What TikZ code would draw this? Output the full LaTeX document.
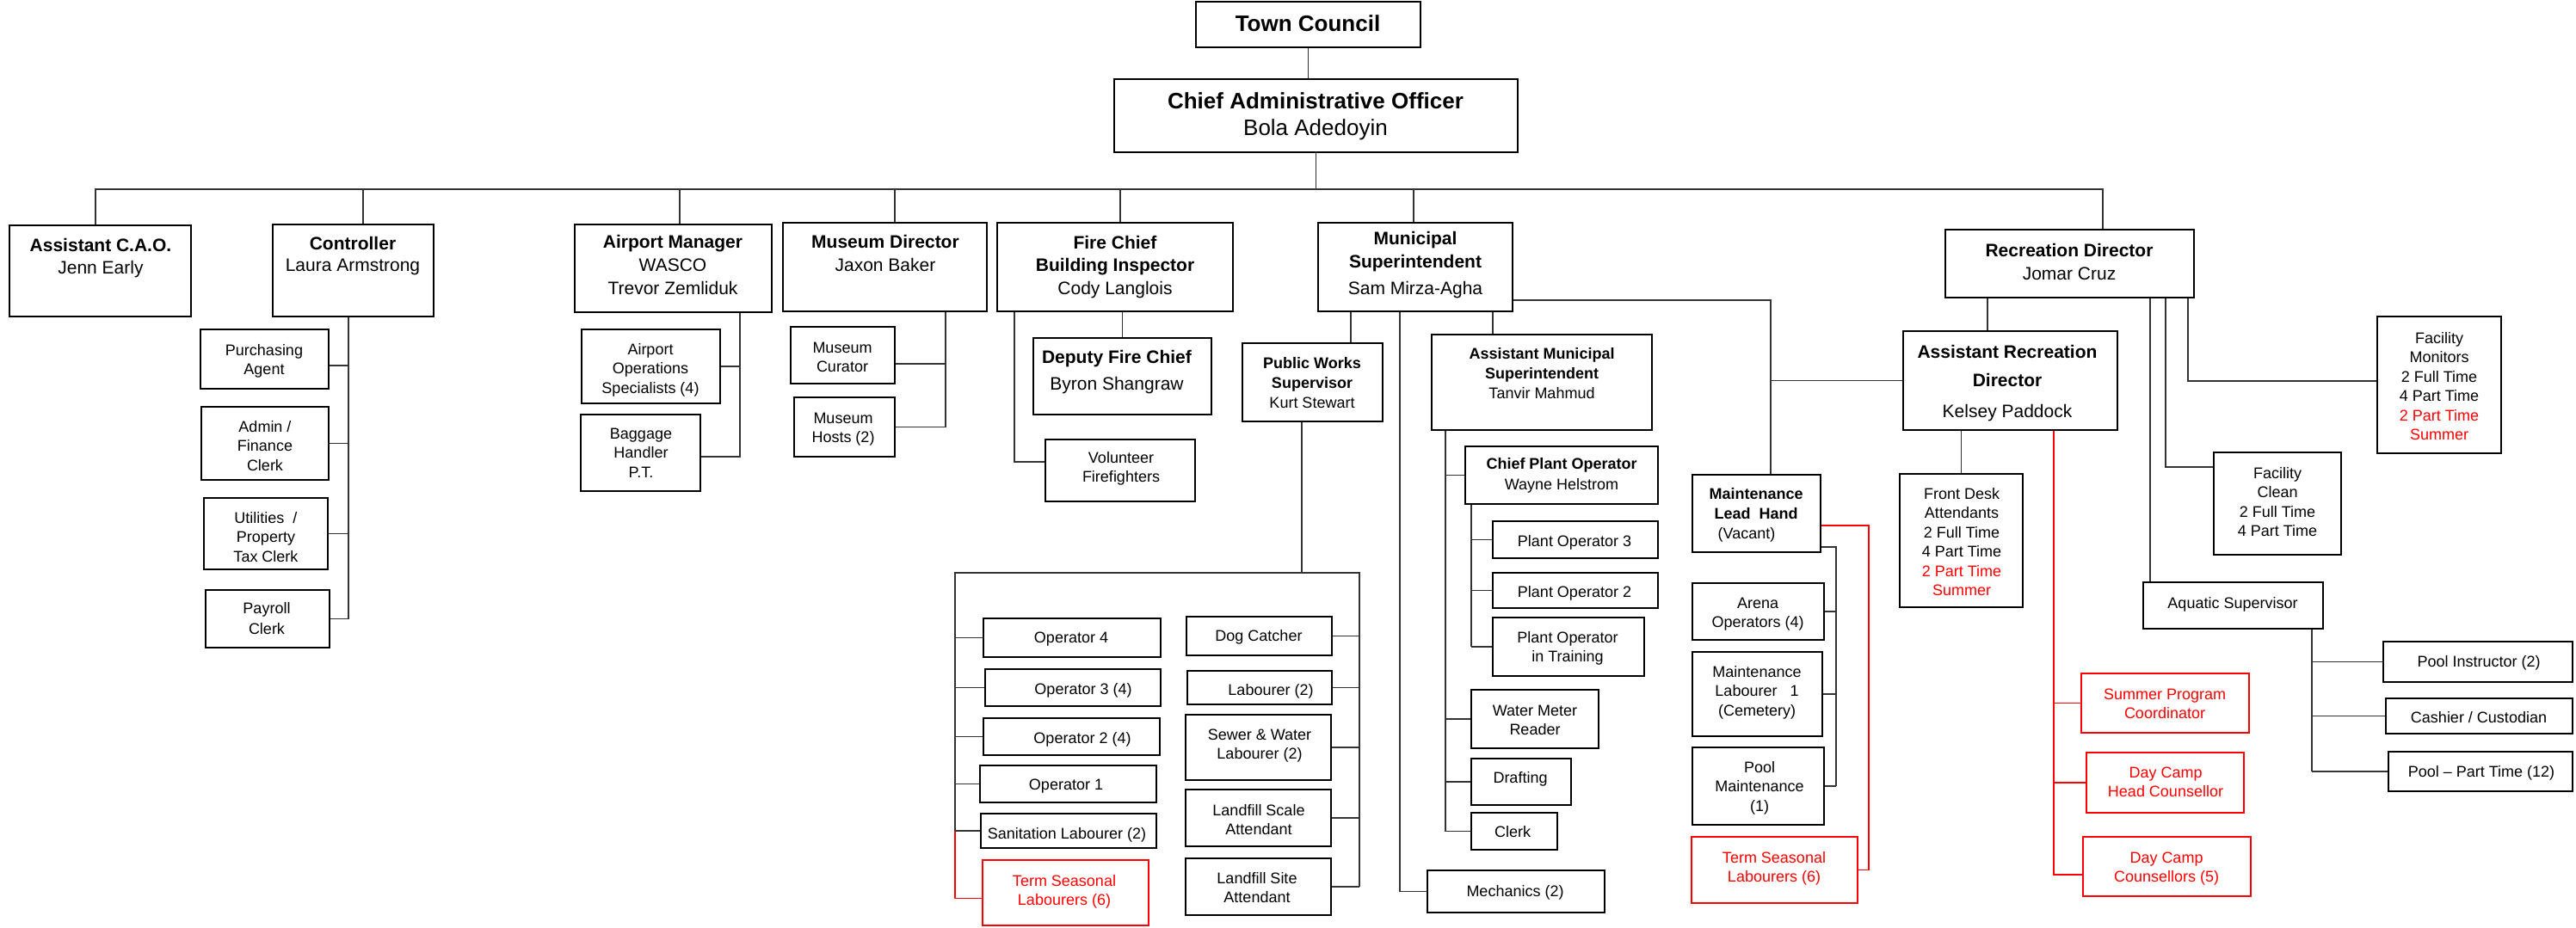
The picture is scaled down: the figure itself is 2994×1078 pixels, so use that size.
\documentclass[tikz,border=0pt]{standalone}
\usepackage{fontspec}
\setmainfont{Liberation Sans}
\usetikzlibrary{fit}
\newcommand\BX[6][box]{\node[#1, fit={(#3,#4)(#5,#6)}] (#2) {};}
\newcommand\TX[5][sml]{\node[#1] (#2) at (#3,#4) {\strut #5};}
\begin{document}
\begin{tikzpicture}[x=0.5pt,y=-0.5pt,
  box/.style={draw=black, line width=1pt, inner sep=0pt, fill=white},
  rbox/.style={box, draw=red},
  big/.style={font=\fontsize{13}{16}\selectfont, anchor=north, yshift=11.2pt, align=center, inner sep=0pt},
  med/.style={font=\fontsize{10.5}{13.5}\selectfont, anchor=north, yshift=9.45pt, align=center, inner sep=0pt},
  sml/.style={font=\fontsize{9}{11.25}\selectfont, anchor=north, yshift=7.875pt, align=center, inner sep=0pt},
  conn/.style={draw=black!80, line width=0.6pt},
  rconn/.style={draw=red, line width=0.6pt},
]
\useasboundingbox[fill=white] (0,0) rectangle (2994,1078);

% ---------- boxes ----------
\BX{tc}{1390}{2}{1651}{55}
\BX{cao}{1295}{92}{1764}{177}
\BX{acao}{11}{262}{222}{368}
\BX{ctrl}{317}{261}{504}{368}
\BX{apm}{668}{261}{897}{363}
\BX{mus}{910}{259}{1147}{362}
\BX{fire}{1159}{259}{1433}{362}
\BX{muni}{1532}{259}{1758}{362}
\BX{rd}{2261}{267}{2550}{346}
\BX{pa}{233}{383}{382}{452}
\BX{afc}{234}{473}{382}{558}
\BX{utc}{237}{579}{381}{662}
\BX{pc}{239}{686}{383}{753}
\BX{aos}{676}{383}{837}{469}
\BX{bh}{675}{482}{814}{571}
\BX{mc}{919}{380}{1040}{446}
\BX{mh}{923}{462}{1040}{531}
\BX{dfc}{1201}{393}{1408}{482}
\BX{vf}{1215}{511}{1389}{583}
\BX{pws}{1444}{399}{1607}{490}
\BX{ams}{1664}{389}{1920}{500}
\BX{cpo}{1703}{519}{1927}{586}
\BX{po3}{1735}{606}{1927}{649}
\BX{po2}{1735}{666}{1927}{707}
\BX{pot}{1735}{718}{1911}{786}
\BX{wmr}{1710}{802}{1858}{870}
\BX{dr}{1710}{882}{1826}{936}
\BX{clk}{1710}{945}{1810}{988}
\BX{mech}{1659}{1012}{1865}{1061}
\BX{mlh}{1967}{552}{2116}{642}
\BX{ao}{1967}{678}{2120}{744}
\BX{ml}{1967}{758}{2118}{856}
\BX{pm}{1967}{869}{2120}{959}
\BX[rbox]{tsl2}{1966}{973}{2159}{1050}
\BX{ard}{2212}{385}{2461}{500}
\BX{fda}{2208}{551}{2351}{706}
\BX{fm}{2763}{368}{2907}{527}
\BX{fc}{2573}{526}{2721}{645}
\BX{aq}{2491}{677}{2700}{731}
\BX{pi}{2770}{746}{2990}{793}
\BX{cc}{2773}{812}{2990}{853}
\BX{ppt}{2776}{874}{2990}{920}
\BX[rbox]{spc}{2419}{783}{2614}{852}
\BX[rbox]{dchc}{2425}{875}{2608}{945}
\BX[rbox]{dcc}{2421}{973}{2616}{1042}
\BX{op4}{1143}{719}{1349}{764}
\BX{op3}{1145}{778}{1349}{821}
\BX{op2}{1143}{835}{1348}{878}
\BX{op1}{1139}{890}{1344}{933}
\BX{sl}{1140}{946}{1344}{986}
\BX[rbox]{tsl1}{1142}{1000}{1335}{1076}
\BX{dc}{1379}{717}{1548}{762}
\BX{lab}{1380}{780}{1548}{819}
\BX{swl}{1378}{831}{1547}{907}
\BX{lsa}{1378}{918}{1547}{984}
\BX{lsi}{1378}{998}{1547}{1064}

% ---------- texts ----------
\TX[big]{tc-t}{1520}{36}{\textbf{Town Council}}
\TX[big]{cao-t}{1529}{126}{\textbf{Chief Administrative Officer}\\[-0.5pt]Bola Adedoyin}
\TX[med]{acao-t}{117}{292}{\textbf{Assistant C.A.O.}\\[-0.5pt]Jenn Early}
\TX[med]{ctrl-t}{410}{290}{\textbf{Controller}\\[-1pt]Laura Armstrong}
\TX[med]{apm-t}{782}{288}{\textbf{Airport Manager}\\WASCO\\Trevor Zemliduk}
\TX[med]{mus-t}{1029}{288}{\textbf{Museum Director}\\Jaxon Baker}
\TX[med]{fire-t}{1296}{289}{\textbf{Fire Chief}\\[-0.5pt]\textbf{Building Inspector}\\Cody Langlois}
\TX[med]{muni-t}{1645}{284}{\textbf{Municipal}\\\textbf{Superintendent}\\[2pt]Sam Mirza-Agha}
\TX[med]{rd-t}{2405}{298}{\textbf{Recreation Director}\\Jomar Cruz}
\TX[med]{ard-t}{2333}{416}{\textbf{Assistant Recreation}\\[3pt]\textbf{Director}\\[4.5pt]Kelsey Paddock}
\TX[med]{dfc-t}{1298}{422}{\textbf{Deputy Fire Chief}\\[2pt]Byron Shangraw}
\TX{pws-t}{1525}{428}{\textbf{Public Works}\\[0.5pt]\textbf{Supervisor}\\[0.25pt]Kurt Stewart}
\TX{ams-t}{1792}{417}{\textbf{Assistant Municipal}\\[0.25pt]\textbf{Superintendent}\\[0.25pt]Tanvir Mahmud}
\TX{cpo-t}{1815}{545}{\textbf{Chief Plant Operator}\\[0.75pt]Wayne Helstrom}
\TX{mlh-t}{2041}{580}{\textbf{Maintenance}\\[0.25pt]\textbf{Lead\ \ Hand}\\[0.5pt](Vacant)\hspace*{11pt}}
\TX{pa-t}{307}{413}{Purchasing\\Agent}
\TX{afc-t}{308}{502}{Admin /\\Finance\\Clerk}
\TX{utc-t}{309}{608}{Utilities\ \ /\\Property\\Tax Clerk}
\TX{pc-t}{310}{713}{Payroll\\[0.75pt]Clerk}
\TX{aos-t}{756}{412}{Airport\\Operations\\Specialists (4)}
\TX{bh-t}{745}{510}{Baggage\\Handler\\P.T.}
\TX{mc-t}{979}{410}{Museum\\Curator}
\TX{mh-t}{980}{492}{Museum\\Hosts (2)}
\TX{vf-t}{1303}{538}{Volunteer\\Firefighters}
\TX{po3-t}{1830}{635}{Plant Operator 3}
\TX{po2-t}{1830}{694}{Plant Operator 2}
\TX{pot-t}{1822}{747}{Plant Operator\\in Training}
\TX{wmr-t}{1784}{832}{Water Meter\\Reader}
\TX{dr-t}{1767}{910}{Drafting}
\TX{clk-t}{1758}{973}{Clerk}
\TX{mech-t}{1761}{1042}{Mechanics (2)}
\TX{ao-t}{2043}{707}{Arena\\Operators (4)}
\TX{ml-t}{2042}{787}{Maintenance\\Labourer\ \ \ 1\\(Cemetery)}
\TX{pm-t}{2045}{898}{Pool\\Maintenance\\(1)}
\TX[sml,text=red]{tsl2-t}{2062}{1003}{Term Seasonal\\Labourers (6)}
\TX{fda-t}{2280}{580}{Front Desk\\Attendants\\2 Full Time\\4 Part Time\\\textcolor{red}{2 Part Time}\\\textcolor{red}{Summer}}
\TX{fm-t}{2835}{399}{Facility\\Monitors\\2 Full Time\\4 Part Time\\\textcolor{red}{2 Part Time}\\\textcolor{red}{Summer}}
\TX{fc-t}{2647}{556}{Facility\\Clean\\2 Full Time\\4 Part Time}
\TX{aq-t}{2595}{707}{Aquatic Supervisor}
\TX{pi-t}{2881}{775}{Pool Instructor (2)}
\TX{cc-t}{2881}{840}{Cashier / Custodian}
\TX{ppt-t}{2884}{903}{Pool -- Part Time (12)}
\TX[sml,text=red]{spc-t}{2516}{813}{Summer Program\\Coordinator}
\TX[sml,text=red]{dchc-t}{2517}{904}{Day Camp\\Head Counsellor}
\TX[sml,text=red]{dcc-t}{2518}{1003}{Day Camp\\Counsellors (5)}
\TX{op4-t}{1245}{747}{Operator 4}
\TX{op3-t}{1259}{807}{Operator 3 (4)}
\TX{op2-t}{1258}{864}{Operator 2 (4)}
\TX{op1-t}{1239}{918}{Operator 1}
\TX{sl-t}{1240}{975}{Sanitation Labourer (2)}
\TX[sml,text=red]{tsl1-t}{1237}{1030}{Term Seasonal\\Labourers (6)}
\TX{dc-t}{1463}{745}{Dog Catcher}
\TX{lab-t}{1477}{808}{Labourer (2)}
\TX{swl-t}{1464}{860}{Sewer \& Water\\Labourer (2)}
\TX{lsa-t}{1463}{948}{Landfill Scale\\Attendant}
\TX{lsi-t}{1461}{1027}{Landfill Site\\Attendant}

% ---------- connectors ----------
\coordinate (busL) at (111,220);
\coordinate (busR) at (2444,220);
\draw[conn] (tc.south) -- (tc.south |- cao.north);
\draw[conn] (cao.south) -- (cao.south |- busL);
\draw[conn] (busL |- acao.north) -- (busL) -- (busR) -- (busR |- rd.north);
\coordinate (d-ctrl) at (422,220);
\coordinate (d-apm) at (790,220);
\coordinate (d-mus) at (1040,220);
\coordinate (d-fire) at (1302,220);
\coordinate (d-muni) at (1643,220);
\foreach \n in {ctrl,apm,mus,fire,muni} \draw[conn] (d-\n) -- (d-\n |- \n.north);

% controller
\coordinate (cv) at (405,0);
\draw[conn] (cv |- ctrl.south) -- (cv |- pc.east);
\draw[conn] ([yshift=-3.75pt]pa.east) -- ([yshift=-3.75pt]pa.east -| cv);
\foreach \n in {afc,utc,pc} \draw[conn] (\n.east) -- (\n.east -| cv);

% airport
\coordinate (av) at (860,0);
\draw[conn] (av |- apm.south) -- ([yshift=-2.25pt]bh.east -| av) -- ([yshift=-2.25pt]bh.east);
\draw[conn] (aos.east) -- (aos.east -| av);

% museum
\coordinate (mv) at (1099,0);
\draw[conn] (mv |- mus.south) -- (mv |- mh.east) -- (mh.east);
\draw[conn] ([yshift=-5pt]mc.east) -- ([yshift=-5pt]mc.east -| mv);

% fire
\draw[conn] (dfc.north) -- (dfc.north |- fire.south);
\coordinate (fv) at (1179,0);
\draw[conn] (fv |- fire.south) -- ([yshift=5pt]vf.west -| fv) -- ([yshift=5pt]vf.west);

% municipal
\coordinate (mu1) at (1570,0);
\draw[conn] (mu1 |- muni.south) -- (mu1 |- pws.north);
\coordinate (mu2) at (1627,0);
\draw[conn] (mu2 |- muni.south) -- (mu2 |- mech.west) -- (mech.west);
\coordinate (mu3) at (1735,0);
\draw[conn] (mu3 |- muni.south) -- (mu3 |- ams.north);
\coordinate (me) at (2058,349);
\draw[conn] (me -| muni.east) -- (me) -- (me |- mlh.north);
\draw[conn] (me |- ard.west) -- (ard.west);

% public works
\coordinate (pwv) at (1513,666);
\draw[conn] (pwv |- pws.south) -- (pwv);
\coordinate (pwL) at (1110,666);
\coordinate (pwR) at (1580,666);
\draw[conn] (pwL |- sl.west) -- (pwL) -- (pwR) -- (pwR |- lsi.east);
\draw[rconn] (pwL |- sl.west) -- ([yshift=-3.25pt]tsl1.west -| pwL) -- ([yshift=-3.25pt]tsl1.west);
\foreach \n in {op4,op3,op2,op1,sl} \draw[conn] (\n.west) -- (\n.west -| pwL);
\foreach \n in {dc,lab,swl,lsa,lsi} \draw[conn] (\n.east) -- (\n.east -| pwR);

% assistant municipal superintendent
\coordinate (av2) at (1680,0);
\draw[conn] (av2 |- ams.south) -- (av2 |- clk.west);
\foreach \n in {cpo,wmr,dr,clk} \draw[conn] (\n.west) -- (\n.west -| av2);
\coordinate (cv2) at (1710,0);
\draw[conn] (cv2 |- cpo.south) -- (cv2 |- pot.west);
\foreach \n in {po3,po2,pot} \draw[conn] (\n.west) -- (\n.west -| cv2);

% maintenance lead hand
\coordinate (mg) at (2134,636);
\draw[conn] (mg -| mlh.east) -- (mg) -- (mg |- pm.east);
\foreach \n in {ao,ml,pm} \draw[conn] (\n.east) -- (\n.east -| mg);
\coordinate (mr) at (2172,611);
\draw[rconn] (mr -| mlh.east) -- (mr) -- (mr |- tsl2.east) -- (tsl2.east);

% recreation
\coordinate (r0) at (2310,0);
\draw[conn] (r0 |- rd.south) -- (r0 |- ard.north);
\draw[conn] (fda.north) -- (fda.north |- ard.south);
\coordinate (rr) at (2387,0);
\draw[rconn] (rr |- ard.south) -- ([yshift=-4.75pt]dcc.west -| rr) -- ([yshift=-4.75pt]dcc.west);
\foreach \n in {spc,dchc} \draw[rconn] (\n.west) -- (\n.west -| rr);
\coordinate (r1) at (2499,0);
\draw[conn] (r1 |- rd.south) -- (r1 |- aq.north);
\coordinate (r2) at (2517,543);
\draw[conn] (r2 |- rd.south) -- (r2) -- (r2 -| fc.west);
\coordinate (r3) at (2543,443);
\draw[conn] (r3 |- rd.south) -- (r3) -- (r3 -| fm.west);
\coordinate (qv) at (2687,0);
\draw[conn] (qv |- aq.south) -- (qv |- ppt.west);
\foreach \n in {pi,cc,ppt} \draw[conn] (\n.west) -- (\n.west -| qv);
\end{tikzpicture}
\end{document}
